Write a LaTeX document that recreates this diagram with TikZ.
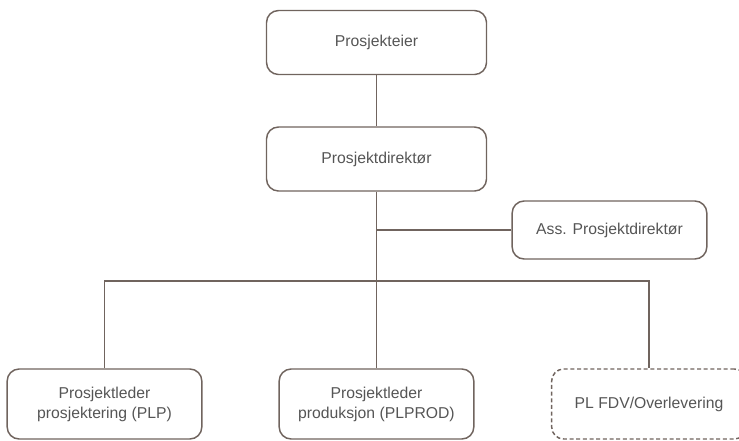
\documentclass[tikz,border=0pt]{standalone}
\usepackage{fontspec}
\setmainfont{Liberation Sans}
\usetikzlibrary{calc}
\definecolor{orgline}{RGB}{112,100,94}
\definecolor{orgtext}{RGB}{85,85,85}

\begin{document}
\begin{tikzpicture}[x=0.75pt,y=-0.75pt,
  rolle/.style={draw=orgline, line width=1.1pt, rounded corners=9pt,
    text=orgtext, align=center, inner sep=0pt,
    font=\fontsize{11.8}{15}\selectfont},
  toppboks/.style={rolle, minimum width=165pt, minimum height=48pt},
  assboks/.style={rolle, minimum width=146pt, minimum height=43.5pt},
  bunnboks/.style={rolle, minimum width=146pt, minimum height=52.5pt},
  wire/.style={draw=orgline, line width=1.1pt}]

\useasboundingbox (0,0) rectangle (739,440);

% ledelse
\node[toppboks] (eier) at (376.5,42.5) {Prosjekteier};
\node[toppboks] (dir) at (376.5,159) {Prosjektdirektør};
\node[assboks] (ass) at (609.5,230) {Ass. Prosjektdirektør};

% prosjektledere
\node[bunnboks] (plp) at (104.5,404) {Prosjektleder\\prosjektering (PLP)};
\node[bunnboks] (plprod) at (376.5,404) {Prosjektleder\\produksjon (PLPROD)};
\node[bunnboks, dash pattern=on 3pt off 2pt] (fdv) at (649,404) {PL FDV/Overlevering};

\draw[wire] (eier) -- (dir);
\draw[wire] (dir.south) -- (plprod.north);
\draw[wire] (ass.west) -- (ass.west -| dir.south);
\draw[wire] (plp.north) -- (plp.north |- 0,281) -- (fdv.north |- 0,281) -- (fdv.north);
\end{tikzpicture}
\end{document}
